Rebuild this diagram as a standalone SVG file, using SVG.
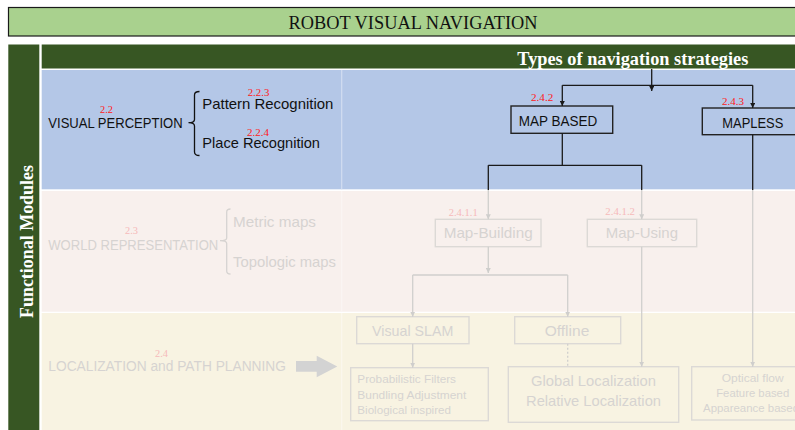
<svg xmlns="http://www.w3.org/2000/svg" width="795" height="430" viewBox="0 0 795 430">
<defs>
<style>
.serif{font-family:"Liberation Serif","Times New Roman",serif}
.sans{font-family:"Liberation Sans",Arial,sans-serif}
.num{font-family:"Liberation Serif","Times New Roman",serif;font-size:10.5px;fill:#ff1a1a}
.numl{font-family:"Liberation Serif","Times New Roman",serif;font-size:10.5px;fill:#f6baba}
.dk{font-family:"Liberation Sans",Arial,sans-serif;fill:#111}
.lt{font-family:"Liberation Sans",Arial,sans-serif;fill:#d6d3d1}
.box{fill:none;stroke:#222;stroke-width:1.4}
.lbox{fill:none;stroke:#dcd9d6;stroke-width:1.4}
.dline{fill:none;stroke:#1a1a1a;stroke-width:1.3}
.lline{fill:none;stroke:#d0cfcd;stroke-width:1.3}
</style>
<marker id="ad" viewBox="0 0 8 8" refX="8" refY="4" markerWidth="5" markerHeight="5" markerUnits="userSpaceOnUse" orient="auto"><path d="M0,0 L8,4 L0,8 z" fill="#1a1a1a"/></marker>
<marker id="al" viewBox="0 0 8 8" refX="8" refY="4" markerWidth="5" markerHeight="5" markerUnits="userSpaceOnUse" orient="auto"><path d="M0,0 L8,4 L0,8 z" fill="#cfcecc"/></marker>
</defs>
<rect width="795" height="430" fill="#ffffff"/>
<!-- title -->
<g id="title">
<rect x="8.5" y="7.5" width="800" height="28.5" fill="#a9d18e" stroke="#1a1a1a" stroke-width="1.2"/>
<text class="serif" x="288.5" y="29.3" font-size="18" textLength="249" lengthAdjust="spacingAndGlyphs" fill="#111">ROBOT VISUAL NAVIGATION</text>
</g>
<!-- background bands -->
<g id="bands">
<rect x="8.3" y="44.5" width="31" height="386" fill="#375623"/>
<rect x="41.7" y="44.5" width="760" height="24" fill="#375623"/>
<rect x="41.7" y="70" width="760" height="119.3" fill="#b4c7e7"/>
<rect x="41.7" y="191" width="760" height="120.7" fill="#f8f0ed"/>
<rect x="41.7" y="313" width="760" height="117" fill="#f8f3e2"/>
<line x1="341.7" y1="70" x2="341.7" y2="189.3" stroke="#d2ddf1" stroke-width="1.2"/>
<line x1="341.7" y1="191" x2="341.7" y2="311.7" stroke="#faf5f3" stroke-width="1.2"/>
<line x1="341.7" y1="313" x2="341.7" y2="430" stroke="#fbf8ef" stroke-width="1.2"/>
</g>
<g id="functional-modules">
<text class="serif" transform="translate(33,241.5) rotate(-90)" text-anchor="middle" font-size="18" font-weight="bold" fill="#ffffff" textLength="153" lengthAdjust="spacingAndGlyphs">Functional Modules</text>
</g>
<g id="types-header">
<text class="serif" x="517.3" y="65" font-size="18" font-weight="bold" fill="#ffffff" textLength="231" lengthAdjust="spacingAndGlyphs">Types of navigation strategies</text>
</g>
<!-- visual perception -->
<g id="visual-perception">
<text class="dk" x="48.3" y="127.7" font-size="14" textLength="134.4" lengthAdjust="spacingAndGlyphs">VISUAL PERCEPTION</text>
<text class="num" x="100" y="112.7" textLength="13" lengthAdjust="spacingAndGlyphs">2.2</text>
<path d="M199.5,91.5 Q194.5,91.5 194.5,95 L194.5,119.5 Q194.5,122.7 188.5,122.7 Q194.5,122.7 194.5,126 L194.5,152 Q194.5,155.5 199.5,155.5" fill="none" stroke="#111" stroke-width="1.3"/>
</g>
<g id="pattern-recognition">
<text class="dk" x="202.3" y="109" font-size="15" textLength="131" lengthAdjust="spacingAndGlyphs">Pattern Recognition</text>
<text class="num" x="247.7" y="95.7" textLength="21.6" lengthAdjust="spacingAndGlyphs">2.2.3</text>
</g>
<g id="place-recognition">
<text class="dk" x="202.3" y="148.3" font-size="15" textLength="117.7" lengthAdjust="spacingAndGlyphs">Place Recognition</text>
<text class="num" x="247" y="136" textLength="22" lengthAdjust="spacingAndGlyphs">2.2.4</text>
</g>
<!-- world representation -->
<g id="world-representation">
<text class="lt" x="48.3" y="250" font-size="14" textLength="170" lengthAdjust="spacingAndGlyphs">WORLD REPRESENTATION</text>
<text class="numl" x="125" y="233.5" textLength="13" lengthAdjust="spacingAndGlyphs">2.3</text>
<path d="M230.5,209 Q226.7,209 226.7,212 L226.7,238 Q226.7,240.7 220,240.7 Q226.7,240.7 226.7,243.5 L226.7,271 Q226.7,274 230.5,274" fill="none" stroke="#d6d3d1" stroke-width="1.3"/>
</g>
<g id="metric-maps">
<text class="lt" x="233" y="226.7" font-size="15" textLength="83" lengthAdjust="spacingAndGlyphs">Metric maps</text>
</g>
<g id="topologic-maps">
<text class="lt" x="233" y="266.7" font-size="15" textLength="103" lengthAdjust="spacingAndGlyphs">Topologic maps</text>
</g>
<!-- localization -->
<g id="localization">
<text class="lt" x="48.3" y="371" font-size="14" textLength="237.7" lengthAdjust="spacingAndGlyphs">LOCALIZATION and PATH PLANNING</text>
<text class="numl" x="155" y="356.7" textLength="13" lengthAdjust="spacingAndGlyphs">2.4</text>
<path d="M296,361 L316.7,361 L316.7,355.7 L337.3,366.5 L316.7,377.3 L316.7,371.7 L296,371.7 z" fill="#d3d3d3"/>
</g>
<!-- right side nodes -->
<g id="map-based">
<rect class="box" x="511" y="106" width="101.7" height="27.3" fill="none"/>
<text class="dk" x="518.7" y="125.5" font-size="14" textLength="78.6" lengthAdjust="spacingAndGlyphs">MAP BASED</text>
<text class="num" x="531" y="100.7" textLength="22.3" lengthAdjust="spacingAndGlyphs">2.4.2</text>
</g>
<g id="mapless">
<rect class="box" x="702.3" y="108" width="110" height="26.7"/>
<text class="dk" x="722.3" y="128" font-size="14.5" textLength="61" lengthAdjust="spacingAndGlyphs">MAPLESS</text>
<text class="num" x="722" y="105" textLength="22" lengthAdjust="spacingAndGlyphs">2.4.3</text>
</g>
<g id="map-building">
<rect class="lbox" x="435.3" y="219.3" width="105.7" height="27.4"/>
<text class="lt" x="443.7" y="238.3" font-size="15" textLength="89" lengthAdjust="spacingAndGlyphs">Map-Building</text>
<text class="numl" x="448.7" y="215.7" textLength="29" lengthAdjust="spacingAndGlyphs">2.4.1.1</text>
</g>
<g id="map-using">
<rect class="lbox" x="587.3" y="219.3" width="109.4" height="27.4"/>
<text class="lt" x="605.7" y="238.3" font-size="15" textLength="72.3" lengthAdjust="spacingAndGlyphs">Map-Using</text>
<text class="numl" x="605.3" y="215" textLength="29.7" lengthAdjust="spacingAndGlyphs">2.4.1.2</text>
</g>
<g id="visual-slam">
<rect class="lbox" x="356.7" y="316.7" width="112.3" height="27"/>
<text class="lt" x="372" y="335.7" font-size="14.5" textLength="81.3" lengthAdjust="spacingAndGlyphs">Visual SLAM</text>
</g>
<g id="offline">
<rect class="lbox" x="514.7" y="316.7" width="106" height="27"/>
<text class="lt" x="544.7" y="335.7" font-size="15" textLength="44.6" lengthAdjust="spacingAndGlyphs">Offline</text>
</g>
<g id="slam-methods">
<rect class="lbox" x="350.7" y="367.7" width="137.6" height="53"/>
<text class="lt" x="357.3" y="383" font-size="11.8" textLength="98.7" lengthAdjust="spacingAndGlyphs">Probabilistic Filters</text>
<text class="lt" x="357.3" y="398.5" font-size="11.8" textLength="109" lengthAdjust="spacingAndGlyphs">Bundling Adjustment</text>
<text class="lt" x="357.3" y="413.5" font-size="11.8" textLength="93.7" lengthAdjust="spacingAndGlyphs">Biological inspired</text>
</g>
<g id="localization-types">
<rect class="lbox" x="508.3" y="366.7" width="170.4" height="55.6"/>
<text class="lt" x="593.5" y="386" font-size="15" text-anchor="middle" textLength="125" lengthAdjust="spacingAndGlyphs">Global Localization</text>
<text class="lt" x="593.5" y="406" font-size="15" text-anchor="middle" textLength="135" lengthAdjust="spacingAndGlyphs">Relative Localization</text>
</g>
<g id="mapless-methods">
<rect class="lbox" x="691.7" y="366.7" width="120" height="53.3"/>
<text class="lt" x="752.7" y="382" font-size="11.8" text-anchor="middle" textLength="62" lengthAdjust="spacingAndGlyphs">Optical flow</text>
<text class="lt" x="752.7" y="397" font-size="11.8" text-anchor="middle" textLength="73" lengthAdjust="spacingAndGlyphs">Feature based</text>
<text class="lt" x="703" y="412" font-size="11.8" textLength="96" lengthAdjust="spacingAndGlyphs">Appareance based</text>
</g>
<!-- connectors -->
<g id="connectors">
<line class="dline" x1="562.3" y1="85.3" x2="752.7" y2="85.3"/>
<line class="dline" x1="651.7" y1="69" x2="651.7" y2="91" marker-end="url(#ad)"/>
<line class="dline" x1="562.3" y1="85.3" x2="562.3" y2="106" marker-end="url(#ad)"/>
<line class="dline" x1="752.7" y1="85.3" x2="752.7" y2="108" marker-end="url(#ad)"/>
<path class="dline" d="M562.3,133.3 L562.3,165.3 M488.3,165.3 L641.7,165.3 M488.3,165.3 L488.3,190 M641.7,165.3 L641.7,190 M752.7,134.7 L752.7,190"/>
<line class="lline" x1="488.3" y1="190" x2="488.3" y2="219.3" marker-end="url(#al)"/>
<line class="lline" x1="641.7" y1="190" x2="641.7" y2="219.3" marker-end="url(#al)"/>
<line class="lline" x1="488.3" y1="246.7" x2="488.3" y2="273" marker-end="url(#al)"/>
<path class="lline" d="M412.7,275 L567.7,275"/>
<line class="lline" x1="412.7" y1="275" x2="412.7" y2="316.7" marker-end="url(#al)"/>
<line class="lline" x1="567.7" y1="275" x2="567.7" y2="316.7" marker-end="url(#al)"/>
<line class="lline" x1="412.7" y1="343.7" x2="412.7" y2="367.7" marker-end="url(#al)"/>
<line class="lline" x1="567.7" y1="343.7" x2="567.7" y2="366.7" stroke-dasharray="2,2"/>
<line class="lline" x1="641.7" y1="246.7" x2="641.7" y2="366.7" marker-end="url(#al)"/>
<line class="lline" x1="752.7" y1="190" x2="752.7" y2="366.7" marker-end="url(#al)"/>
</g>
</svg>
